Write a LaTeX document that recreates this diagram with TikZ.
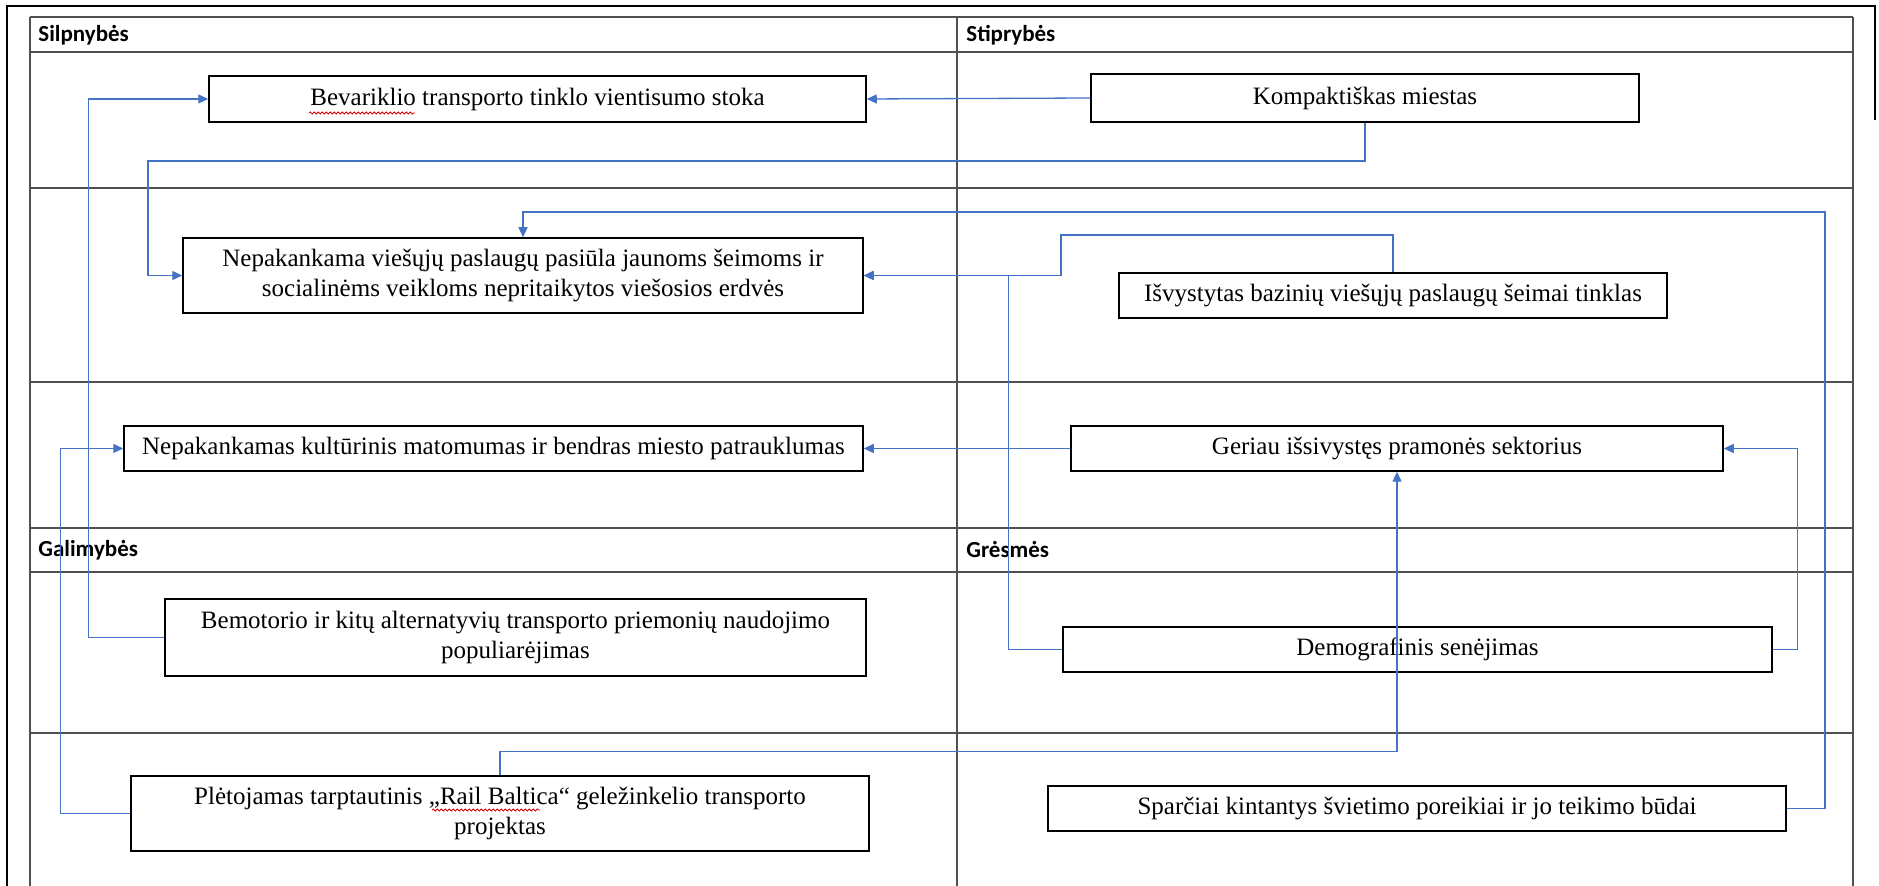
\documentclass[tikz,border=0pt]{standalone}
\usepackage{fontspec}
\setmainfont{Liberation Serif}
\newfontfamily\hdfont{Carlito}
\usepackage{tikz}
\usetikzlibrary{arrows.meta,decorations.pathmorphing}
\definecolor{linkblue}{HTML}{4472C4}
\definecolor{gridgray}{HTML}{505050}
\tikzset{
	box/.style={draw, line width=0.75pt, inner sep=0pt, align=center, font=\fontsize{12.5}{15}\selectfont},
	head/.style={anchor=west, inner sep=0pt, font=\hdfont\fontsize{11.5}{13}\selectfont\bfseries},
	link/.style={color=linkblue, line width=0.65pt, -{Triangle[length=5pt,width=4.5pt]}},
	grid/.style={draw=gridgray, line width=1pt},
	spell/.style={draw=red!85!black, line width=0.4pt, decorate, decoration={snake, amplitude=0.5pt, segment length=2pt}}
}
\begin{document}
\begin{tikzpicture}[x=0.5pt, y=-0.5pt]
			\useasboundingbox (0,0) rectangle (1879,886);
			\draw[line width=1pt] (7,886) -- (7,6) -- (1875,6) -- (1875,120);
			\draw[grid] (30,17) -- (1853,17) (30,52) -- (1853,52) (30,188) -- (1853,188)
				(30,382) -- (1853,382) (30,528) -- (1853,528) (30,572) -- (1853,572)
				(30,733) -- (1853,733)
				(30,17) -- (30,886) (957,17) -- (957,886) (1853,17) -- (1853,886);
			\node[head] (hw) at (38,35) {Silpnybės};
			\node[head] (hs) at (966,35) {Stiprybės};
			\node[head] (ho) at (38,550) {Galimybės};
			\node[head] (ht) at (966,550) {Grėsmės};
			\node[box, minimum width=328.5pt, minimum height=23pt] (b1) at (537.5,99) {Bevariklio transporto tinklo vientisumo stoka};
			\node[box, minimum width=274pt, minimum height=24pt] (s1) at (1365,98) {Kompaktiškas miestas};
			\node[box, minimum width=340pt, minimum height=37.5pt] (b2) at (523,275.5) {Nepakankama viešųjų paslaugų pasiūla jaunoms šeimoms ir\\socialinėms veikloms nepritaikytos viešosios erdvės};
			\node[box, minimum width=274pt, minimum height=22.5pt] (s2) at (1393,295.5) {Išvystytas bazinių viešųjų paslaugų šeimai tinklas};
			\node[box, minimum width=369.5pt, minimum height=22.5pt] (b3) at (493.5,448.5) {Nepakankamas kultūrinis matomumas ir bendras miesto patrauklumas};
			\node[box, minimum width=326pt, minimum height=22.5pt] (s3) at (1397,448.5) {Geriau išsivystęs pramonės sektorius};
			\node[box, minimum width=350.5pt, minimum height=38.5pt] (o1) at (515.5,637.5) {Bemotorio ir kitų alternatyvių transporto priemonių naudojimo\\populiarėjimas};
			\node[box, minimum width=354.5pt, minimum height=22.5pt] (t1) at (1417.5,649.5) {Demografinis senėjimas};
			\node[box, minimum width=369pt, minimum height=37.5pt] (o2) at (500,813.5) {Plėtojamas tarptautinis „Rail Baltica“ geležinkelio transporto\\projektas};
			\node[box, minimum width=369pt, minimum height=22.5pt] (t2) at (1417,808.5) {Sparčiai kintantys švietimo poreikiai ir jo teikimo būdai};
			\draw[spell] (309,113) -- (415,113);
			\draw[spell] (432,810) -- (540,810);
			\coordinate (k1) at (148,161);
			\coordinate (k4) at (1825,212);
			\coordinate (k5) at (1061,235);
			\draw[link] (s1.west) -- (b1.east);
			\draw[link] (s3.west) -- (b3.east);
			\draw[link] (s1.south) |- (k1) |- (b2.west);
			\draw[link] (o1.west) -- ++(-76,0) |- (b1.west);
			\draw[link] (t2.east) -| (k4) -| (b2.north);
			\draw[link] (s2.north) |- (k5) |- (b2.east);
			\draw[link] (t1.west) -- ++(-54,0) |- (b2.east);
			\draw[link] (o2.west) -- ++(-70,0) |- (b3.west);
			\draw[link] (o2.north) -- ++(0,-24) -| (s3.south);
			\draw[link] (t1.east) -- ++(25,0) |- (s3.east);
		\end{tikzpicture}
\end{document}
